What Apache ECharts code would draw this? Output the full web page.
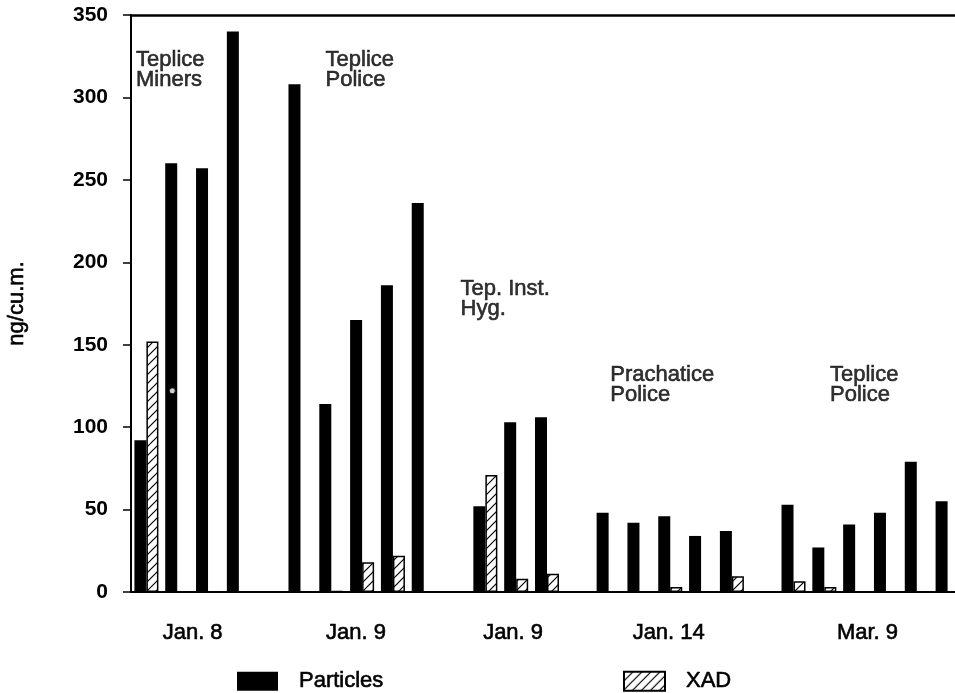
<!DOCTYPE html>
<html>
<head>
<meta charset="utf-8">
<script src="https://cdn.jsdelivr.net/npm/echarts@6/dist/echarts.min.js"></script>
<style>
html,body{margin:0;padding:0;background:#fff;}
#chart{width:955px;height:693px;}
</style>
</head>
<body>
<div id="chart"></div>
<script>
// ---- data ----
const samples = ['S1','S2','S3','S4','S5','S6','S7','S8','S9','S10','S11','S12','S13','S14','S15','S16','S17','S18','S19','S20','S21','S22','S23','S24','S25','S26','S27'];
const particles = [92, 260, 257, 340, null, 308, 114, 165, 186, 236, null, 52, 103, 106, null, 48, 42, 46, 34, 37, null, 53, 27, 41, 48, 79, 55];
const xad = [152, null, null, null, null, null, 0.6, 18, 22, null, null, 71, 8, 11, null, null, null, 3, null, 9.5, null, 6.5, 3, null, null, null, null];
const groupLabels = ['Jan. 8', 'Jan. 9', 'Jan. 9', 'Jan. 14', 'Mar. 9'];
const groupPos = [1.5, 6.8, 11.9, 16.95, 23.4];
const siteNotes = ['Teplice\nMiners', 'Teplice\nPolice', 'Tep. Inst.\nHyg.', 'Prachatice\nPolice', 'Teplice\nPolice'];
const siteX = [-0.32, 5.83, 10.21, 15.07, 22.2];
const siteY = [328.8, 328.8, 189.3, 137.7, 137.7];
const yTicks = [0, 50, 100, 150, 200, 250, 300, 350];
const speck = [[0.84, 122]];

function hatchCanvas() {
  const c = document.createElement('canvas');
  c.width = 9; c.height = 9;
  const g = c.getContext('2d');
  g.fillStyle = '#fff'; g.fillRect(0, 0, 9, 9);
  g.strokeStyle = '#000'; g.lineWidth = 1.2;
  g.beginPath();
  g.moveTo(0, 9); g.lineTo(9, 0);
  g.moveTo(-1, 1); g.lineTo(1, -1);
  g.moveTo(8, 10); g.lineTo(10, 8);
  g.stroke();
  return c;
}
const hatch = { image: hatchCanvas(), repeat: 'repeat' };
const FONT = '"Liberation Sans", Arial, Helvetica, sans-serif';
const heavy = { textBorderColor: '#000', textBorderWidth: 0.6 };

const chart = echarts.init(document.getElementById('chart'), null, { renderer: 'canvas' });
chart.setOption({
  animation: false,
  backgroundColor: '#fff',
  textStyle: { fontFamily: FONT, color: '#000' },
  grid: { left: 131, top: 15, bottom: 101, width: 832, containLabel: false, outerBoundsMode: 'none' },
  legend: [
    { data: ['Particles'], left: 237, top: 670, padding: 0, itemWidth: 41, itemHeight: 19, icon: 'rect', selectedMode: false,
      textStyle: Object.assign({ fontSize: 22, fontFamily: FONT, color: '#000', padding: [0, 0, 0, 16] }, heavy) },
    { data: ['XAD'], left: 623, top: 670, padding: 0, itemWidth: 41, itemHeight: 19, icon: 'rect', selectedMode: false,
      textStyle: Object.assign({ fontSize: 22, fontFamily: FONT, color: '#000', padding: [0, 0, 0, 16] }, heavy) }
  ],
  xAxis: [
    { type: 'category', data: samples, position: 'bottom',
      axisLine: { lineStyle: { color: '#000', width: 2 } },
      axisTick: { alignWithLabel: true, length: 11, lineStyle: { color: '#000', width: 1.5 } },
      axisLabel: { show: false }, splitLine: { show: false } },
    { type: 'value', min: -0.5, max: 26.5, position: 'bottom',
      axisLine: { show: false }, axisTick: { show: false }, splitLine: { show: false },
      axisLabel: Object.assign({ customValues: groupPos, fontSize: 22, fontFamily: FONT, color: '#000', margin: 30,
        formatter: function (v) {
          let best = 0, d = 1e9;
          groupPos.forEach((p, i) => { if (Math.abs(p - v) < d) { d = Math.abs(p - v); best = i; } });
          return groupLabels[best];
        } }, heavy) },
    { type: 'value', min: -0.5, max: 26.5, position: 'top',
      axisLine: { show: true, onZero: false, lineStyle: { color: '#000', width: 2.5 } },
      axisTick: { show: false }, axisLabel: { show: false }, splitLine: { show: false } }
  ],
  yAxis: {
    type: 'value', min: 0, max: 350, interval: 50,
    name: 'ng/cu.m.', nameLocation: 'middle', nameGap: 103,
    nameTextStyle: Object.assign({ fontSize: 22, fontFamily: FONT, color: '#000' }, heavy),
    axisLine: { show: true, onZero: false, lineStyle: { color: '#000', width: 2 } },
    axisTick: { show: true, length: 8, lineStyle: { color: '#000', width: 1.5 } },
    axisLabel: { fontSize: 21, fontWeight: 'bold', fontFamily: FONT, color: '#000', margin: 23,
      customValues: yTicks },
    splitLine: { show: false }
  },
  series: [
    { name: 'Particles', type: 'bar', xAxisIndex: 0, data: particles, barWidth: 12, barGap: '0%',
      itemStyle: { color: '#000' } },
    { name: 'XAD', type: 'bar', xAxisIndex: 0, data: xad, barWidth: 12, barGap: '0%',
      itemStyle: { color: hatch, borderColor: '#000', borderWidth: 1.5 } },
    { name: 'notes', type: 'scatter', xAxisIndex: 2, yAxisIndex: 0, symbolSize: 1,
      itemStyle: { color: 'rgba(0,0,0,0)' }, silent: true,
      data: siteNotes.map((t, i) => ({ value: [siteX[i], siteY[i]], name: t })),
      label: Object.assign({ show: true, position: [0, 0], align: 'left', verticalAlign: 'top',
        formatter: p => p.name, fontSize: 22, lineHeight: 20, fontFamily: FONT, color: '#000' }, heavy) },
    { name: 'speck', type: 'scatter', xAxisIndex: 2, yAxisIndex: 0, symbolSize: 6, silent: true,
      itemStyle: { color: '#fff', borderColor: '#000', borderWidth: 1 }, data: speck }
  ]
});
</script>
</body>
</html>
